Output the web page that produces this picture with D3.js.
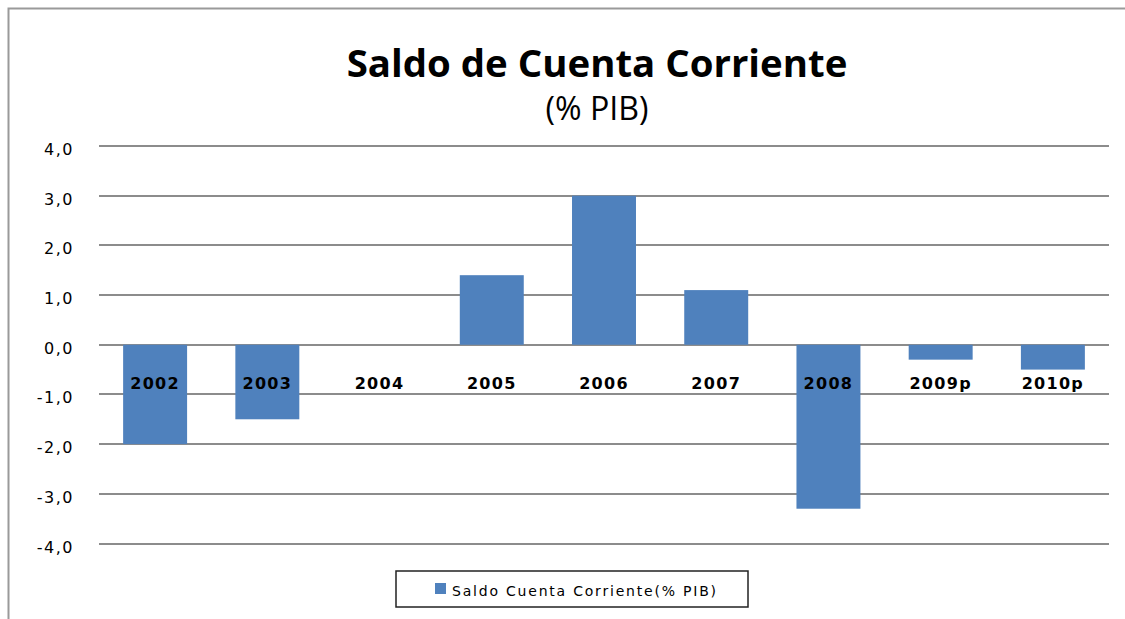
<!DOCTYPE html>
<meta charset="utf-8">
<style>
    body { margin: 0; background: #fff; }
    .grid line { stroke: #8c8c8c; stroke-width: 2; }
    .ylab text { font: 16px "DejaVu Sans", sans-serif; fill: #000; letter-spacing: 1.5px; }
    .xlab { font: bold 16px "DejaVu Sans", sans-serif; fill: #000; letter-spacing: 1.3px; }
</style>
<svg width="1125" height="619"></svg>
<script src="https://cdn.jsdelivr.net/npm/d3@7"></script>
<script>
    var years = ["2002", "2003", "2004", "2005", "2006", "2007", "2008", "2009p", "2010p"];
    var saldo = [-2.0, -1.5, 0.0, 1.4, 3.0, 1.1, -3.3, -0.3, -0.5];
    var yTicks = [4, 3, 2, 1, 0, -1, -2, -3, -4];
    var title = "Saldo de Cuenta Corriente";
    var subtitle = "(% PIB)";
    var legendLabel = "Saldo Cuenta Corriente(% PIB)";

    var svg = d3.select("svg"),
        width = +svg.attr("width"),
        height = +svg.attr("height");
    var left = 99, right = 1109;

    // outer chart frame (runs off the bottom/right of the picture)
    svg.append("rect")
        .attr("x", 8.5).attr("y", 8.5)
        .attr("width", 1140).attr("height", 640)
        .attr("fill", "none").attr("stroke", "#9a9a9a").attr("stroke-width", 2);

    var x = d3.scaleBand().domain(years).range([left, right]).paddingInner(0.43).paddingOuter(0.215);
    var y = d3.scaleLinear().domain([-4, 4]).range([543.5, 146]);

    var t = svg.append("text")
        .attr("x", 597).attr("y", 77)
        .attr("text-anchor", "middle")
        .style("font-family", "'Open Sans', sans-serif")
        .style("font-weight", "bold")
        .style("font-size", "36px")
        .text(title);
    var tl = t.node().getComputedTextLength();
    t.style("font-size", (36 * 501 / tl) + "px");

    var s = svg.append("text")
        .attr("x", 597).attr("y", 120)
        .attr("text-anchor", "middle")
        .style("font-family", "'Open Sans', sans-serif")
        .style("font-size", "22px")
        .text(subtitle);
    var sl = s.node().getComputedTextLength();
    s.style("font-size", (22 * 103 / sl) + "px");

    svg.append("g").attr("class", "grid")
        .selectAll("line").data(yTicks).enter().append("line")
        .attr("x1", left).attr("x2", right)
        .attr("y1", function (d) { return Math.round(y(d)); })
        .attr("y2", function (d) { return Math.round(y(d)); });

    svg.append("g").attr("class", "ylab")
        .selectAll("text").data(yTicks).enter().append("text")
        .attr("x", 74)
        .attr("y", function (d) { return y(d) + 9; })
        .attr("text-anchor", "end")
        .text(function (d) { return d3.format(".1f")(d).replace(".", ",").replace("−", "-"); });

    svg.append("g")
        .selectAll("rect").data(years).enter().append("rect")
        .attr("x", function (d) { return x(d); })
        .attr("width", x.bandwidth())
        .attr("y", function (d, i) { return y(Math.max(0, saldo[i])); })
        .attr("height", function (d, i) { return Math.abs(y(saldo[i]) - y(0)); })
        .attr("fill", "#4f81bd");

    svg.append("g")
        .selectAll("text").data(years).enter().append("text")
        .attr("class", "xlab")
        .attr("x", function (d) { return x(d) + x.bandwidth() / 2; })
        .attr("y", 389)
        .attr("text-anchor", "middle")
        .text(function (d) { return d; });

    // legend
    var lg = svg.append("g").attr("transform", "translate(396,571)");
    lg.append("rect").attr("width", 352).attr("height", 36)
        .attr("fill", "#fff").attr("stroke", "#222").attr("stroke-width", 1.5);
    lg.append("rect").attr("x", 39).attr("y", 12).attr("width", 11).attr("height", 11).attr("fill", "#4f81bd");
    lg.append("text").attr("x", 56).attr("y", 25)
        .style("font", "14px 'DejaVu Sans', sans-serif")
        .attr("textLength", 264)
        .text(legendLabel);
</script>
